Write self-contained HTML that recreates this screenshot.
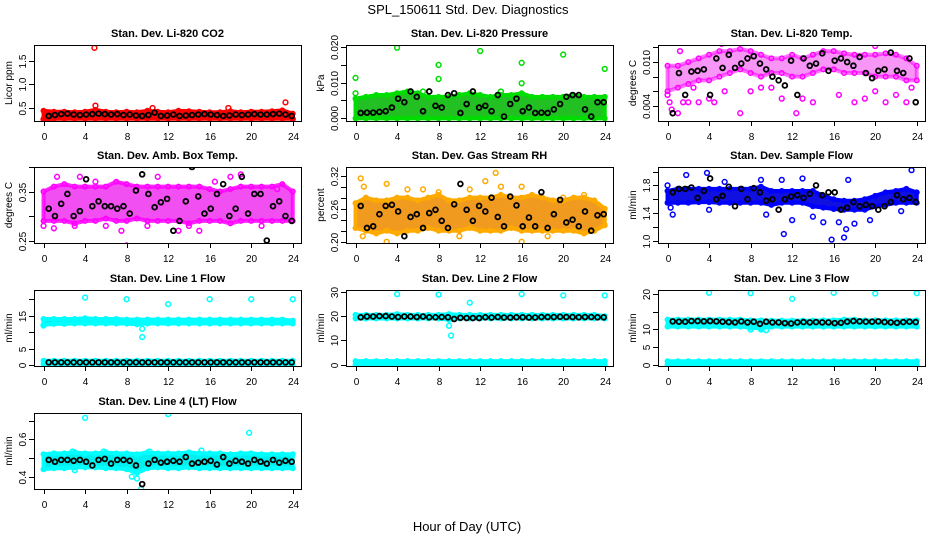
<!DOCTYPE html>
<html><head><meta charset="utf-8"><style>
html,body{margin:0;padding:0;background:#fff;}
svg{display:block;font-family:"Liberation Sans",sans-serif;}
</style></head><body>
<svg id="chart" width="936" height="540" viewBox="0 0 936 540">
<text x="468" y="14" text-anchor="middle" font-size="13">SPL_150611  Std. Dev. Diagnostics</text>
<text x="467" y="531" text-anchor="middle" font-size="13">Hour of Day (UTC)</text>
</svg>
<script>
const HOURS_X = [0,4,8,12,16,20,24];
const BLK_HOURS = [0.5,1.1,1.7,2.3,2.9,3.5,4.1,4.7,5.3,5.9,6.5,7.1,7.7,8.3,8.9,9.5,10.1,10.7,11.3,11.9,12.5,13.1,13.7,14.3,14.9,15.5,16.1,16.7,17.3,17.9,18.5,19.1,19.7,20.3,20.9,21.5,22.1,22.7,23.3,23.9];

const co2Lo = [0.26,0.27,0.27,0.27,0.27,0.27,0.27,0.27,0.27,0.27,0.27,0.27,0.27,0.27,0.27,0.27,0.27,0.27,0.27,0.27,0.27,0.27,0.27,0.27,0.27];
const co2Hi = [0.44,0.42,0.42,0.41,0.42,0.46,0.42,0.41,0.42,0.41,0.44,0.42,0.41,0.44,0.43,0.42,0.41,0.41,0.43,0.41,0.42,0.42,0.43,0.45,0.38];
const co2Out = [[4.9,1.78],[5,0.55],[23.3,0.62],[10.5,0.5],[17.8,0.5],[0,0.26],[24,0.26]];
const co2Blk = [0.33,0.35,0.37,0.38,0.36,0.35,0.36,0.37,0.38,0.37,0.36,0.37,0.35,0.36,0.34,0.33,0.35,0.40,0.33,0.34,0.36,0.33,0.34,0.35,0.36,0.37,0.36,0.35,0.33,0.34,0.36,0.35,0.36,0.37,0.36,0.36,0.37,0.38,0.36,0.33];

const presLo = [0,0,0,0,0,0,0,0,0,0,0,0,0,0,0,0,0,0,0,0,0,0,0,0,0];
const presHi = [0.0055,0.006,0.0065,0.0065,0.007,0.0075,0.007,0.006,0.006,0.006,0.0065,0.007,0.0065,0.006,0.0065,0.0065,0.007,0.006,0.006,0.006,0.006,0.0065,0.006,0.006,0.006];
const presOut = [[0,0.0113],[0,0.007],[4,0.0197],[8,0.0149],[8,0.011],[12,0.0188],[16,0.0155],[16,0.0098],[20,0.0178],[24,0.0138],[6.5,0.0075],[14,0.0075]];
const presBlk = [0.0015,0.0016,0.0016,0.0018,0.002,0.003,0.0055,0.0045,0.0075,0.006,0.002,0.0075,0.0035,0.003,0.0065,0.007,0.0015,0.004,0.0075,0.003,0.0035,0.002,0.0065,0.0005,0.004,0.0055,0.002,0.003,0.0015,0.0016,0.0015,0.0025,0.004,0.006,0.0065,0.0065,0.0025,0.0005,0.0045,0.0045];

const tempLo = [0.006,0.0065,0.007,0.0075,0.0075,0.008,0.0085,0.009,0.0085,0.008,0.0085,0.0085,0.008,0.008,0.0085,0.009,0.009,0.0085,0.0085,0.0085,0.008,0.008,0.008,0.0075,0.0075];
const tempHi = [0.0095,0.0095,0.010,0.0105,0.011,0.0115,0.0115,0.0118,0.0115,0.011,0.0105,0.0105,0.011,0.0105,0.011,0.0115,0.0115,0.0112,0.011,0.011,0.011,0.0112,0.011,0.0105,0.0095];
const tempOut = [[0,0.0055],[0.2,0.0045],[0.5,0.003],[1,0.003],[0.4,0.0035],[1.5,0.0045],[2,0.0045],[3,0.0045],[4,0.005],[4.5,0.0045],[5.5,0.006],[8,0.006],[7,0.003],[9,0.0065],[11,0.005],[12.4,0.003],[13,0.005],[14,0.0045],[16.5,0.0055],[18,0.0045],[19,0.005],[20,0.006],[21,0.0045],[22,0.0055],[23,0.0045],[23.5,0.0065],[1.2,0.0115],[5.2,0.0125],[20,0.0122],[2.5,0.0065],[10,0.0065]];
const tempBlk = [0.003,0.0085,0.0055,0.0087,0.0088,0.009,0.0055,0.0105,0.0092,0.011,0.0092,0.0098,0.0105,0.0108,0.0098,0.009,0.008,0.0075,0.0068,0.0102,0.0055,0.0105,0.0095,0.0098,0.0112,0.0088,0.0102,0.0105,0.0100,0.0095,0.0107,0.0085,0.0078,0.0088,0.009,0.0113,0.0088,0.0085,0.0105,0.0045];

const ambLo = [0.29,0.29,0.29,0.285,0.29,0.29,0.295,0.29,0.29,0.295,0.29,0.29,0.29,0.29,0.285,0.29,0.29,0.29,0.285,0.29,0.29,0.29,0.29,0.29,0.29];
const ambHi = [0.35,0.36,0.365,0.36,0.36,0.36,0.36,0.37,0.365,0.36,0.36,0.36,0.36,0.36,0.36,0.36,0.355,0.35,0.355,0.36,0.36,0.36,0.36,0.365,0.35];
const ambOut = [[0,0.28],[1,0.275],[1.3,0.38],[3.5,0.38],[5,0.37],[6,0.28],[8,0.24],[7.5,0.27],[11,0.38],[13,0.27],[15,0.27],[16.5,0.37],[18,0.38],[19,0.385],[22.5,0.355],[10,0.28],[14,0.28],[3,0.28],[21,0.28]];
const ambBlk = [0.315,0.30,0.325,0.345,0.30,0.31,0.375,0.32,0.33,0.32,0.32,0.315,0.32,0.305,0.352,0.385,0.345,0.318,0.328,0.335,0.27,0.29,0.33,0.40,0.34,0.305,0.315,0.345,0.365,0.30,0.315,0.38,0.305,0.345,0.345,0.25,0.32,0.33,0.30,0.29];

const rhLo = [0.225,0.22,0.215,0.22,0.215,0.22,0.22,0.225,0.22,0.22,0.22,0.225,0.22,0.22,0.22,0.225,0.22,0.22,0.22,0.22,0.22,0.22,0.215,0.22,0.23];
const rhHi = [0.27,0.28,0.275,0.275,0.28,0.28,0.275,0.28,0.285,0.275,0.275,0.28,0.28,0.28,0.285,0.28,0.28,0.285,0.28,0.275,0.275,0.28,0.28,0.275,0.26];
const rhOut = [[0.5,0.315],[0.8,0.3],[3,0.305],[0.7,0.21],[3,0.20],[5,0.295],[6.5,0.295],[8,0.29],[11,0.295],[12.5,0.31],[13.5,0.325],[14,0.30],[16,0.30],[16,0.2],[18.5,0.21],[10,0.21],[20,0.28],[22,0.285]];
const rhBlk = [0.265,0.225,0.228,0.25,0.265,0.267,0.255,0.21,0.245,0.25,0.225,0.252,0.258,0.238,0.225,0.268,0.305,0.258,0.238,0.265,0.255,0.28,0.245,0.228,0.282,0.266,0.228,0.244,0.228,0.29,0.225,0.25,0.276,0.235,0.24,0.228,0.255,0.22,0.248,0.25];

const flowLo = [1.55,1.55,1.55,1.56,1.56,1.55,1.55,1.55,1.55,1.55,1.52,1.55,1.55,1.55,1.5,1.48,1.46,1.45,1.45,1.45,1.5,1.52,1.55,1.55,1.55];
const flowHi = [1.72,1.75,1.75,1.75,1.75,1.75,1.75,1.75,1.75,1.78,1.72,1.72,1.72,1.72,1.72,1.65,1.6,1.58,1.58,1.6,1.65,1.7,1.72,1.75,1.7];
const flowOut = [[0.5,1.38],[0.3,1.48],[1.8,1.95],[3.8,1.98],[4,1.45],[5.5,1.85],[9,1.88],[9.5,1.38],[11,1.88],[11.2,1.1],[12,1.3],[13,1.9],[14,1.35],[15,1.27],[15.8,1.02],[16.5,1.27],[17,1.05],[17.2,1.17],[17.4,1.88],[18,1.25],[19.5,1.3],[23.5,2.02],[22.5,1.43],[0,1.8]];
const flowBlk = [1.7,1.75,1.75,1.77,1.62,1.72,1.9,1.6,1.65,1.78,1.5,1.75,1.6,1.76,1.7,1.58,1.6,1.45,1.6,1.64,1.66,1.62,1.68,1.8,1.66,1.7,1.7,1.45,1.48,1.56,1.5,1.52,1.5,1.45,1.5,1.56,1.66,1.6,1.62,1.56];

const l1Lo = [12.2,12.5,12.5,12.6,12.6,12.6,12.6,12.6,12.6,12.4,12.6,12.6,12.6,12.6,12.6,12.6,12.6,12.6,12.6,12.6,12.6,12.6,12.6,12.6,12.6];
const l1Hi = [14.0,14.0,14.0,14.0,14.2,14.0,14.0,14.0,13.8,13.8,13.8,13.8,13.8,13.8,13.8,13.8,13.8,13.8,13.8,13.8,13.8,13.8,13.8,13.8,13.5];
const l1ZLo = [0.3,0.3,0.3,0.3,0.3,0.3,0.3,0.3,0.3,0.3,0.3,0.3,0.3,0.3,0.3,0.3,0.3,0.3,0.3,0.3,0.3,0.3,0.3,0.3,0.3];
const l1ZHi = [1.3,1.3,1.3,1.3,1.3,1.3,1.3,1.3,1.3,1.3,1.3,1.3,1.3,1.3,1.3,1.3,1.3,1.3,1.3,1.3,1.3,1.3,1.3,1.3,1.3];
const l1Out = [[0,12],[4,20.5],[8,20],[12,18.5],[16,20],[20,20],[24,20],[9.5,11],[9.5,8.5]];
const l1Blk = [0.8,0.8,0.8,0.8,0.8,0.8,0.8,0.8,0.8,0.8,0.8,0.8,0.8,0.8,0.8,0.8,0.8,0.8,0.8,0.8,0.8,0.8,0.8,0.8,0.8,0.8,0.8,0.8,0.8,0.8,0.8,0.8,0.8,0.8,0.8,0.8,0.8,0.8,0.8,0.8];

const l2Lo = [19.0,19.0,19.0,19.0,19.0,19.0,19.0,19.0,19.0,18.5,19.0,19.0,19.0,19.0,19.0,19.0,19.0,19.0,19.0,19.0,19.0,19.0,19.0,19.0,19.0];
const l2Hi = [20.5,20.5,20.5,20.5,20.8,20.5,20.5,20.5,20.5,20.8,20.5,20.5,20.5,20.5,20.5,20.5,20.5,20.5,20.5,20.5,20.5,20.5,20.5,20.5,20.0];
const l2ZLo = [0,0,0,0,0,0,0,0,0,0,0,0,0,0,0,0,0,0,0,0,0,0,0,0,0];
const l2ZHi = [1.5,1.5,1.5,1.5,1.5,1.5,1.5,1.5,1.5,1.5,1.5,1.5,1.5,1.5,1.5,1.5,1.5,1.5,1.5,1.5,1.5,1.5,1.5,1.5,1.5];
const l2Out = [[4,29],[8,28.8],[9,16],[9.2,12],[11,25.5],[16,29],[20,28.5],[24,28.5]];
const l2Blk = [19.5,19.8,19.8,20,20,19.8,19.6,19.8,19.8,19.6,19.8,19.5,19.5,19.6,19.5,18.8,19.3,19.2,19.2,19.2,19.5,19.4,19.6,19.4,19.4,19.5,19.5,19.4,19.4,19.6,19.6,19.6,19.7,19.6,19.6,19.5,19.6,19.6,19.5,19.5];

const l3Lo = [10.8,10.8,10.8,10.8,10.8,10.8,10.8,10.8,10.5,10.3,10.8,10.8,10.8,10.8,10.8,10.8,10.8,10.8,10.8,10.8,10.8,10.8,10.8,10.8,10.8];
const l3Hi = [12.8,12.8,12.8,12.8,12.8,12.8,12.8,12.8,12.6,12.6,12.5,12.5,12.5,12.5,12.5,12.6,12.6,12.8,12.8,12.6,12.6,12.6,12.6,12.6,12.6];
const l3ZLo = [0,0,0,0,0,0,0,0,0,0,0,0,0,0,0,0,0,0,0,0,0,0,0,0,0];
const l3ZHi = [1,1,1,1,1,1,1,1,1,1,1,1,1,1,1,1,1,1,1,1,1,1,1,1,1];
const l3Out = [[4,20.4],[8,20.3],[12,18.7],[16,20.4],[20,20.2],[24,20.3],[8,10],[9,10],[9.5,9.8]];
const l3Blk = [12.3,12.2,12.2,12.4,12.4,12.3,12.4,12.3,12.2,12.1,12.0,12.3,12.0,12.2,11.6,12.2,12.0,12.0,11.8,11.7,12.0,12.1,12.0,12.1,12.0,12.0,11.8,11.9,12.2,12.4,12.3,12.2,12.2,12.3,12.1,12.0,11.9,12.1,12.2,12.1];

const l4Lo = [0.44,0.445,0.445,0.45,0.45,0.45,0.445,0.445,0.44,0.42,0.445,0.45,0.445,0.445,0.45,0.445,0.445,0.445,0.445,0.445,0.445,0.445,0.445,0.445,0.445];
const l4Hi = [0.52,0.525,0.525,0.53,0.525,0.525,0.53,0.525,0.525,0.52,0.53,0.525,0.525,0.525,0.53,0.525,0.525,0.525,0.52,0.525,0.525,0.52,0.52,0.52,0.52];
const l4Out = [[4,0.715],[12,0.735],[19.8,0.635],[9.4,0.335],[9,0.39],[8.5,0.4],[3,0.435],[15.2,0.54],[10.2,0.535],[2.8,0.535],[5.8,0.535]];
const l4Blk = [0.49,0.48,0.49,0.49,0.485,0.49,0.48,0.46,0.49,0.495,0.47,0.49,0.49,0.485,0.46,0.36,0.47,0.49,0.475,0.48,0.485,0.48,0.505,0.47,0.475,0.48,0.485,0.465,0.505,0.47,0.485,0.48,0.47,0.49,0.48,0.47,0.49,0.475,0.485,0.48];

const panels = [
 {name:'co2',title:'Stan. Dev. Li-820 CO2',ylab:'Licor ppm',col:0,row:0,ymin:0.223,ymax:1.84,ticks:[0.5,1.0,1.5],labels:['0.5','1.0','1.5'],color:'#ff0000',fill:'#ee1111',op:1,bands:[[co2Lo,co2Hi]],out:co2Out,blk:co2Blk},
 {name:'pressure',title:'Stan. Dev. Li-820 Pressure',ylab:'kPa',col:1,row:0,ymin:-0.00074,ymax:0.02047,ticks:[0,0.005,0.01,0.015,0.02],labels:['0.000','','0.010','','0.020'],color:'#00dd00',fill:'#22c022',op:1,bands:[[presLo,presHi]],out:presOut,blk:presBlk},
 {name:'li820-temp',title:'Stan. Dev. Li-820 Temp.',ylab:'degrees C',col:2,row:0,ymin:0.00193,ymax:0.01234,ticks:[0.004,0.006,0.008,0.010,0.012],labels:['0.004','','','0.010',''],color:'#ff00ff',fill:'#f040f0',op:0.55,bands:[[tempLo,tempHi]],out:tempOut,blk:tempBlk},
 {name:'amb-box-temp',title:'Stan. Dev. Amb. Box Temp.',ylab:'degrees C',col:0,row:1,ymin:0.245,ymax:0.40,ticks:[0.25,0.30,0.35,0.40],labels:['0.25','','0.35',''],color:'#ff00ff',fill:'#f030f0',op:0.85,bands:[[ambLo,ambHi]],out:ambOut,blk:ambBlk},
 {name:'gas-stream-rh',title:'Stan. Dev. Gas Stream RH',ylab:'percent',col:1,row:1,ymin:0.1977,ymax:0.3357,ticks:[0.20,0.22,0.24,0.26,0.28,0.30,0.32],labels:['0.20','','','0.26','','','0.32'],color:'#ffaa00',fill:'#f09a20',op:1,bands:[[rhLo,rhHi]],out:rhOut,blk:rhBlk},
 {name:'sample-flow',title:'Stan. Dev. Sample Flow',ylab:'ml/min',col:2,row:1,ymin:0.971,ymax:2.065,ticks:[1.0,1.2,1.4,1.6,1.8,2.0],labels:['1.0','','1.4','','1.8',''],color:'#0000ff',fill:'#1010e0',op:1,bands:[[flowLo,flowHi]],out:flowOut,blk:flowBlk},
 {name:'line1-flow',title:'Stan. Dev. Line 1 Flow',ylab:'ml/min',col:0,row:2,ymin:-0.3,ymax:22.8,ticks:[0,5,10,15,20],labels:['0','5','','15',''],color:'#00ffff',fill:'#00f0f0',op:1,bands:[[l1Lo,l1Hi],[l1ZLo,l1ZHi]],out:l1Out,blk:l1Blk},
 {name:'line2-flow',title:'Stan. Dev. Line 2 Flow',ylab:'ml/min',col:1,row:2,ymin:-0.5,ymax:30.7,ticks:[0,10,20,30],labels:['0','10','20','30'],color:'#00ffff',fill:'#00f0f0',op:1,bands:[[l2Lo,l2Hi],[l2ZLo,l2ZHi]],out:l2Out,blk:l2Blk},
 {name:'line3-flow',title:'Stan. Dev. Line 3 Flow',ylab:'ml/min',col:2,row:2,ymin:-0.36,ymax:21.2,ticks:[0,5,10,15,20],labels:['0','5','10','','20'],color:'#00ffff',fill:'#00f0f0',op:1,bands:[[l3Lo,l3Hi],[l3ZLo,l3ZHi]],out:l3Out,blk:l3Blk},
 {name:'line4-flow',title:'Stan. Dev. Line 4 (LT) Flow',ylab:'ml/min',col:0,row:3,ymin:0.334,ymax:0.741,ticks:[0.4,0.5,0.6,0.7],labels:['0.4','','0.6',''],color:'#00ffff',fill:'#00f0f0',op:1,bands:[[l4Lo,l4Hi]],out:l4Out,blk:l4Blk}
];

const NS = 'http://www.w3.org/2000/svg';
const svg = document.getElementById('chart');
const COL_L = [34,346,658], ROW_T = [45,167,290,413], W = 267, H = 76;
function mk(tag, attrs, parent){ const e=document.createElementNS(NS,tag); for(const k in attrs) e.setAttribute(k,attrs[k]); parent.appendChild(e); return e; }

panels.forEach(p=>{
  const L = COL_L[p.col], T = ROW_T[p.row], B = T+H;
  const g = mk('g',{},svg);
  
  
  const xs = h => L + W*0.0357 + h*(W/1.0714)/24;
  const ys = v => B - (v - p.ymin)/(p.ymax - p.ymin)*H;
  const clipId = 'clip-'+p.name;
  const cp = mk('clipPath',{id:clipId},g); mk('rect',{x:L,y:T,width:W,height:H},cp);
  const plot = mk('g',{'clip-path':'url(#'+clipId+')'},g);
  p.bands.forEach(bd=>{
    const lo = bd[0], hi = bd[1];
    let pts = [];
    hi.forEach((v,i)=>pts.push(xs(i)+','+ys(v)));
    for(let i=lo.length-1;i>=0;i--) pts.push(xs(i)+','+ys(lo[i]));
    const poly = mk('polygon',{points:pts.join(' '),fill:p.fill,'fill-opacity':p.op,stroke:p.color,'stroke-opacity':p.op,'stroke-width':4,'stroke-linejoin':'round'},plot);
    
    
    hi.forEach((v,i)=>{ const c = mk('circle',{cx:xs(i),cy:ys(v),r:2.3,fill:'none',stroke:p.color,'stroke-width':1.4},plot);
      
       });
    lo.forEach((v,i)=>{ const c = mk('circle',{cx:xs(i),cy:ys(v),r:2.3,fill:'none',stroke:p.color,'stroke-width':1.4},plot);
      
       });
  });
  p.out.forEach(o=>{
    const c = mk('circle',{cx:xs(o[0]),cy:ys(o[1]),r:2.4,fill:'none',stroke:p.color,'stroke-width':1.5},plot);
    
    
  });
  p.blk.forEach((v,i)=>{
    const c = mk('circle',{cx:xs(BLK_HOURS[i]),cy:ys(v),r:2.4,fill:'none',stroke:'#000','stroke-width':1.8},plot);
    
    
  });
  const box = mk('rect',{x:L+0.5,y:T+0.5,width:W,height:H,fill:'none',stroke:'#000','stroke-width':1},g);
  
  
  const t = mk('text',{x:L+W/2,y:T-8,'text-anchor':'middle','font-size':11,'font-weight':'bold'},g);
  t.textContent = p.title;
  
  
  HOURS_X.forEach(h=>{
    const x = Math.round(xs(h))+0.5;
    mk('line',{x1:x,y1:B,x2:x,y2:B+5,stroke:'#000'},g);
    const tl = mk('text',{x:x,y:B+19,'text-anchor':'middle','font-size':10},g);
    tl.textContent = h;
    
    
  });
  mk('line',{x1:Math.round(xs(0))+0.5,y1:B+0.5,x2:Math.round(xs(24))+0.5,y2:B+0.5,stroke:'#000'},g);
  p.ticks.forEach((v,i)=>{
    const y = Math.round(ys(v))+0.5;
    mk('line',{x1:L-5,y1:y,x2:L,y2:y,stroke:'#000'},g);
    if(p.labels[i]){
      const yl = mk('text',{x:L-8,y:y,'text-anchor':'middle','font-size':10,transform:'rotate(-90 '+(L-8)+' '+y+')'},g);
      yl.textContent = p.labels[i];
      
      
    }
  });
  mk('line',{x1:L+0.5,y1:Math.round(ys(p.ticks[0]))+0.5,x2:L+0.5,y2:Math.round(ys(p.ticks[p.ticks.length-1]))+0.5,stroke:'#000'},g);
  const ylt = mk('text',{x:L-22,y:T+H/2,'text-anchor':'middle','font-size':10,transform:'rotate(-90 '+(L-22)+' '+(T+H/2)+')'},g);
  ylt.textContent = p.ylab;
  
  
});
</script>
</body></html>
